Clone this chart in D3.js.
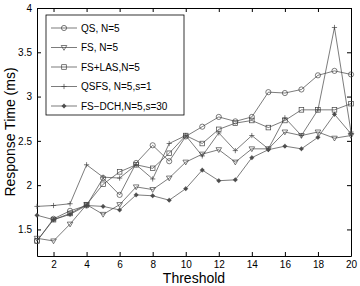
<!DOCTYPE html>
<html>
  <head>
    <meta charset="utf-8">
    <title>Response time vs threshold</title>
    <script src="https://d3js.org/d3.v7.min.js"></script>
    <style>
      body { margin: 0; background: #fff; }
      text { font-family: "Liberation Sans", Arial, sans-serif; fill: #000; }
    </style>
  </head>
  <body>
    <div id="chart"></div>
    <script>
      const thresholds = d3.range(1, 21);
      const qs     = [1.37, 1.62, 1.71, 1.77, 2.08, 1.89, 2.25, 2.45, 2.27, 2.55, 2.66, 2.77, 2.72, 2.77, 3.05, 3.04, 3.08, 3.24, 3.29, 3.25];
      const fs     = [1.40, 1.37, 1.56, 1.78, 1.67, 1.78, 1.98, 1.95, 2.08, 2.26, 2.35, 2.40, 2.26, 2.41, 2.41, 2.60, 2.56, 2.60, 2.53, 2.56];
      const fsLas  = [1.37, 1.61, 1.68, 1.78, 2.01, 2.15, 2.23, 2.19, 2.36, 2.56, 2.47, 2.63, 2.70, 2.73, 2.65, 2.73, 2.85, 2.85, 2.85, 2.92];
      const qsfs   = [1.76, 1.77, 1.79, 2.23, 2.09, 2.08, 2.23, 2.07, 2.47, 2.56, 2.33, 2.59, 2.39, 2.56, 2.41, 2.76, 2.56, 2.85, 3.78, 2.60];
      const fsDch  = [1.66, 1.61, 1.67, 1.77, 1.76, 1.72, 1.89, 1.88, 1.83, 1.96, 2.17, 2.05, 2.06, 2.31, 2.40, 2.44, 2.41, 2.54, 2.80, 2.58];
      const seriesNames = ["QS, N=5", "FS, N=5", "FS+LAS,N=5", "QSFS, N=5,s=1", "FS\u2212DCH,N=5,s=30"];
      const markers = ["circle", "triangle", "square", "plus", "dot"];
      const xTicks = [2, 4, 6, 8, 10, 12, 14, 16, 18, 20];
      const yTicks = [1.5, 2, 2.5, 3, 3.5, 4];

      const series = [qs, fs, fsLas, qsfs, fsDch].map((vals, i) => ({
        name: seriesNames[i], marker: markers[i], values: vals
      }));

      const width = 360, height = 286;
      const margin = {top: 8, right: 9, bottom: 30, left: 37};
      const svg = d3.select("#chart").append("svg")
        .attr("width", width)
        .attr("height", height);

      const x = d3.scaleLinear().domain([1, 20]).range([margin.left, width - margin.right]);
      const y = d3.scaleLinear().domain([1.2, 4]).range([height - margin.bottom, margin.top]);

      // axes (ticks inside, box on all sides)
      const tl = 4;
      svg.append("g")
        .attr("transform", `translate(0,${y.range()[0]})`)
        .call(d3.axisBottom(x).tickValues(xTicks).tickSizeInner(-tl).tickSizeOuter(0).tickPadding(5))
        .call(g => g.selectAll("text").attr("font-size", 10));
      svg.append("g")
        .attr("transform", `translate(0,${y.range()[1]})`)
        .call(d3.axisTop(x).tickValues(xTicks).tickSizeInner(-tl).tickSizeOuter(0).tickFormat(""));
      svg.append("g")
        .attr("transform", `translate(${x.range()[0]},0)`)
        .call(d3.axisLeft(y).tickValues(yTicks).tickSizeInner(-tl).tickSizeOuter(0).tickPadding(5).tickFormat(d3.format("")))
        .call(g => g.selectAll("text").attr("font-size", 10));
      svg.append("g")
        .attr("transform", `translate(${x.range()[1]},0)`)
        .call(d3.axisRight(y).tickValues(yTicks).tickSizeInner(-tl).tickSizeOuter(0).tickFormat(""));
      svg.selectAll(".domain").attr("stroke", "#000");
      svg.selectAll(".tick line").attr("stroke", "#000");

      svg.append("text")
        .attr("x", (x.range()[0] + x.range()[1]) / 2)
        .attr("y", 283)
        .attr("text-anchor", "middle")
        .attr("font-size", 14)
        .text("Threshold");
      svg.append("text")
        .attr("transform", `translate(15,${(y.range()[0] + y.range()[1]) / 2}) rotate(-90)`)
        .attr("text-anchor", "middle")
        .attr("font-size", 14)
        .text("Response Time (ms)");

      function drawMarker(g, type) {
        g.attr("fill", "none").attr("stroke", "#444").attr("stroke-width", 0.7);
        if (type === "circle") g.append("circle").attr("r", 2.6);
        else if (type === "triangle") g.append("path").attr("d", "M-2.8,-2L2.8,-2L0,2.8Z");
        else if (type === "square") g.append("rect").attr("x", -2.3).attr("y", -2.3).attr("width", 4.6).attr("height", 4.6);
        else if (type === "plus") g.append("path").attr("d", "M-2.6,0H2.6M0,-2.6V2.6");
        else if (type === "dot") {
          g.append("circle").attr("r", 1.5).attr("fill", "#666");
          g.append("path").attr("d", "M-2.4,0H2.4M0,-2.4V2.4");
        }
      }

      const line = d3.line().x((d, i) => x(thresholds[i])).y(d => y(d));
      const plot = svg.append("g");
      series.forEach(s => {
        plot.append("path")
          .datum(s.values)
          .attr("fill", "none")
          .attr("stroke", "#444")
          .attr("stroke-width", 0.7)
          .attr("d", line);
        s.values.forEach((v, i) => {
          const g = plot.append("g").attr("transform", `translate(${x(thresholds[i])},${y(v)})`);
          drawMarker(g, s.marker);
        });
      });

      // legend
      const legend = svg.append("g");
      legend.append("rect")
        .attr("x", 46).attr("y", 15).attr("width", 138).attr("height", 100)
        .attr("fill", "#fff").attr("stroke", "#000").attr("stroke-width", 0.8);
      series.forEach((s, i) => {
        const ly = 28 + i * 19.5;
        legend.append("line")
          .attr("x1", 51).attr("x2", 77).attr("y1", ly).attr("y2", ly)
          .attr("stroke", "#444").attr("stroke-width", 0.7);
        drawMarker(legend.append("g").attr("transform", `translate(64,${ly})`), s.marker);
        legend.append("text")
          .attr("x", 81).attr("y", ly).attr("dy", "0.35em")
          .attr("font-size", 10)
          .text(s.name);
      });
    </script>
  </body>
</html>
